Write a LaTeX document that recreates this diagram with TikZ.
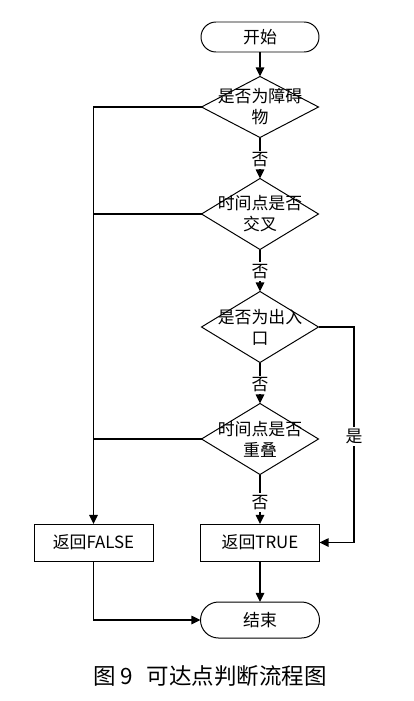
\documentclass[tikz,border=0pt]{standalone}
\usepackage{fontspec}
\setmainfont{Noto Sans CJK SC}
\usetikzlibrary{shapes.geometric,shapes.misc,arrows.meta}

\begin{document}
\begin{tikzpicture}
        \tikzstyle{terminal}=[draw, line width=0.7pt, rounded rectangle, minimum width=2.95cm, minimum height=0.75cm, inner sep=0pt, outer sep=0pt]
        \tikzstyle{decision}=[draw, line width=0.7pt, diamond, minimum width=2.925cm, inner sep=0pt, outer sep=0pt]
        \tikzstyle{process}=[draw, line width=0.7pt, rectangle, minimum width=2.975cm, minimum height=0.925cm, inner sep=0pt, outer sep=0pt]
        \tikzstyle{flow}=[line width=1.1pt, >={Triangle[length=6.5pt,width=6pt]}]
        \tikzstyle{answer}=[fill=white, inner sep=1.5pt]
        \tikzstyle{words}=[align=center, font=\fontsize{12}{15}\selectfont]

        \useasboundingbox (0,0) rectangle (10.325,-17.525);

        % Draw start and decisions
        \node[terminal, words] (start) at (6.5,-0.925) {开始};
        \node[decision, minimum height=1.525cm] (obstacle) at (6.5,-2.675) {};
        \node[words] (obstacletext) at (obstacle) {是否为障碍\\物};
        \node[decision, minimum height=1.775cm] (cross) at (6.5,-5.35) {};
        \node[words] (crosstext) at (cross) {时间点是否\\交叉};
        \node[decision, minimum height=1.775cm] (exit) at (6.5,-8.175) {};
        \node[words] (exittext) at (exit) {是否为出入\\口};
        \node[decision, minimum height=1.775cm] (overlap) at (6.5,-10.975) {};
        \node[words] (overlaptext) at (overlap) {时间点是否\\重叠};

        % Draw results
        \node[process, words] (false) at (2.3375,-13.5625) {返回FALSE};
        \node[process, words] (true) at (6.5,-13.5625) {返回TRUE};
        \node[terminal, words, minimum height=0.9cm, minimum width=2.975cm] (stop) at (6.5,-15.5) {结束};
        \coordinate (yesturn) at (8.85,-8.175);

        % Add arrows down the middle
        \draw[flow, ->] (start) -- (obstacle);
        \draw[flow, ->] (obstacle) -- node[answer, words, pos=0.55] {否} (cross);
        \draw[flow, ->] (cross) -- node[answer, words, pos=0.53] {否} (exit);
        \draw[flow, ->] (exit) -- node[answer, words, pos=0.55] {否} (overlap);
        \draw[flow, ->] (overlap) -- node[answer, words, pos=0.56] {否} (true);
        \draw[flow, ->] (true) -- (stop);

        % Add side branches
        \draw[flow, ->] (obstacle.west) -| (false.north);
        \draw[flow] (cross.west) -- (cross.west -| false.north);
        \draw[flow] (overlap.west) -- (overlap.west -| false.north);
        \draw[flow, ->] (exit.east) -- (yesturn) |- node[answer, words, pos=0.255] {是} (true.east);
        \draw[flow, ->] (false.south) |- (stop.west);

        % Add caption
        \node[font=\fontsize{16}{18}\selectfont] (caption) at (5.25,-16.9) {图 9\hspace{0.6em}可达点判断流程图};
    \end{tikzpicture}
\end{document}
